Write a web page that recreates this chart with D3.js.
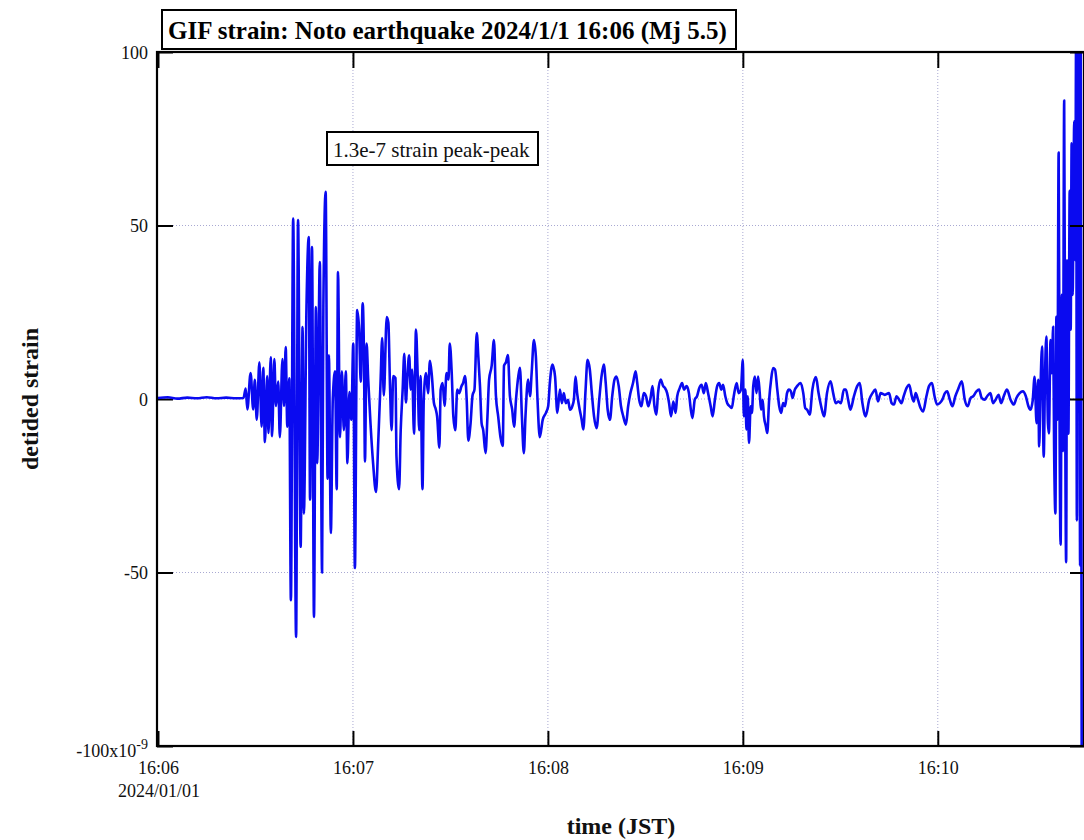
<!DOCTYPE html>
<html><head><meta charset="utf-8">
<script src="https://cdn.jsdelivr.net/npm/d3@7"></script>
<style>
body{margin:0;background:#fff}
svg{display:block}
text{font-family:"Liberation Serif","Times New Roman",serif}
</style>
</head><body>
<svg id="c" width="1084" height="840"></svg>
<script>
// ---- data: seconds after 16:06:00 JST, detided strain in units of 1e-9 ----
const timeSec = [
0,3,6,9,12,15,18,21,24,26.3,
27,27.5,28.5,29.3,29.8,30.4,31.2,31.9,32.4,32.9,
33.6,34,34.7,35.1,35.8,36.3,37,37.5,38.3,38.8,
39.3,39.8,40.4,40.9,41.6,42.5,43.1,43.9,44.5,44.9,
45.7,46.4,46.8,47.4,48,48.6,49,49.8,50.5,50.9,
51.6,52.2,52.6,53.2,53.8,54.5,55,55.4,56,56.6,
57.2,57.8,58.3,58.9,59.5,60.1,60.6,
61.3,61.9,62.4,63,63.4,63.7,64.2,64.7,65.4,66.2,
67.1,67.8,68.5,69,69.5,70.4,70.9,71.4,71.9,72.4,
73.1,73.4,74.2,74.7,75.3,75.8,76.3,76.7,77.3,77.8,
78.2,78.8,79.4,79.9,80.4,80.8,81.4,81.8,82.5,83.1,
83.7,84.3,84.9,85.5,85.9,86.6,87,87.6,88.2,88.8,
89.4,89.8,90.4,90.9,91.5,92.1,92.7,93.4,93.9,94.5,
95,95.5,96.2,96.8,97.4,98.1,98.6,99.1,99.6,100.1,
100.8,101.4,101.9,102.7,103.4,104,104.7,105.4,106.1,106.5,
107.1,107.7,108.3,109,109.6,110.2,110.9,111.4,112,112.6,
113.1,113.9,114.5,115,115.7,116.3,116.8,117.5,118.4,119.4,
120.1,
120.6,121.4,122.2,122.9,123.7,124.3,124.9,125.5,126.2,126.8,
127.5,128,128.5,129,129.6,130.4,130.9,131.6,132.2,132.9,
133.6,134.2,135,135.8,136.5,137.2,137.8,138.4,139.1,139.8,
140.5,141.1,141.8,142.5,143.2,144,144.7,145.4,146.2,147,
147.5,148.1,148.8,149.5,150.2,150.9,151.6,152.2,152.8,153.4,
153.9,154.7,155.5,156,156.7,157.3,157.9,158.6,159.3,159.8,
160.6,161.3,161.9,162.7,163.4,164,164.5,165.2,165.9,166.6,
167.3,168,168.6,169.3,170.1,170.7,171.4,172.1,172.7,173.4,
173.9,174.6,175.2,176,176.6,177.2,178.1,178.7,179.4,180,
180.3,180.8,181.1,181.5,181.9,182.4,182.8,183.2,183.7,184.2,
184.7,185.2,185.6,186.1,186.5,187.1,187.5,188.1,188.7,189.3,
189.9,190.6,191.2,191.8,192.4,193,193.6,194.2,
194.8,195.3,196,196.7,197.8,198.6,199.2,199.8,200.6,201.4,
202.5,203.3,204.1,205,205.9,207,207.8,208.6,209.4,210.2,
211.1,211.7,212.4,213.1,214.2,215.2,216,216.8,217.8,218.9,
219.9,220.8,221.6,222.4,223.7,225,225.8,226.5,227.3,228.1,
228.8,229.5,230.4,231.2,232,232.6,233.2,233.9,234.7,235.5,
236.5,237.3,238.2,239,239.8,240.6,241.4,242.2,242.9,243.7,
244.5,245.4,246.2,247.4,248.3,249.2,250.1,250.9,251.9,252.7,
253.5,254.4,255.2,256.2,257,257.8,258.7,259.5,260.3,261.3,
262.4,263.4,264.2,265.2,266.2,267.1,267.9,268.5,
269.2,269.8,270.4,270.9,271.2,271.6,272.1,272.6,273,273.4,
273.9,274.2,274.7,275.1,275.5,275.8,276.2,276.5,276.8,277.2,
277.5,277.8,278.2,278.5,278.9,279.2,279.5,279.8,280.2,280.6,
280.9,281.2,281.5,282,282.3,282.6,282.8,283.1,283.3,283.5,
283.8,284,284.3
];
const strain = [
0.3,0.5,0.1,0.4,0.2,0.5,0.2,0.4,0.2,0.3,
3,-3,7.5,-3,5.5,-6,10.6,-8,9,-12.4,
6.6,-9.8,12,-10.7,11.5,-2,5,-11,11.5,-2,
15,-8,6,-58,52,-68.6,51.6,-42.6,20.7,-33,
26.5,46.7,-29,43.8,-62.8,26.5,-18.5,39.5,-50,27,
59.7,-23,12.6,-38.6,0,8,-26,36.6,-11,8,
-9,8,-18.5,2,-6,16,-48.7,
25.6,20,5,27.6,12,-18,16,5.5,-7,-18.5,
-26.8,-12,5,17.6,1,23.6,22,4,-9,6.6,
6,-16.6,-26,-9,2.7,13,-1,5.5,12.6,2.7,
8.5,-10,20,7.5,-9,6.6,-26,0,7.5,1.7,
11,6.6,-1,-3,-5,-14,2.7,4.6,-2,7.5,
5.6,16,7.5,-5,-9,2.7,1.7,3.7,4.6,6.6,
0,-12,-7,1,2.7,19,12,3.7,-7,-9,
-15.6,-5,5.6,9.6,17,1,-5,-11,-13.5,9.6,
10.6,12.7,1,-3,-8,0,6.6,9,-5,-15.6,
-5,5.6,0.8,7.5,17,12.2,0,-11,-6,-4,
-2,
4.6,9.9,6.5,-4,2.7,-1.2,1.7,-1.2,-0.2,-3.1,
-2.1,-0.2,6.5,1.7,-2.1,-6,-8.8,2.7,11.3,8.5,
0.8,-5,-8.4,-0.2,6.5,9.9,4.6,-3.1,-6,0.8,
5.6,6.5,3.7,-2.1,-5,-7.4,-2.1,1.7,4.6,8,
4.6,-0.2,-2.1,1.7,0.8,-2.1,0.3,3.7,-2.1,-4.5,
1.7,5.6,3.7,3.2,1.7,-1.2,-5,-0.7,-4,0.8,
3.2,4.6,2.7,3.7,1.7,-3.1,-5.5,-0.2,0.8,3.2,
4.1,1.7,4.6,1.7,-2.1,-5,-0.2,3.7,4.6,2.7,
4.1,0.8,-1.2,-2.1,-2.6,0.8,4.6,1.7,2.7,11.3,
-5,2.7,-8.8,0.8,-12.7,-2.1,-4,3.7,6.5,1.7,
6.5,1.7,-3.1,-0.2,-5,-7.9,-9.8,-0.2,5.6,8.9,
8.5,2.7,-2.1,-4,-1.2,-2.1,1.7,2.7,
2.2,0.3,2.7,3.7,4.6,1.7,-2.6,-3.1,-4.5,2.7,
6.3,1.7,-2.1,-5,1.7,5.1,1.7,-1.2,-0.7,-1.2,
2.7,2.7,-0.2,-3.1,0.8,3.7,4.6,-1.2,-5,-0.2,
1.7,2.7,-0.7,1.7,1.2,1.7,-1.2,-1.6,0.8,-0.2,
-1.2,0.8,3.2,4.1,0.8,-0.7,1.7,-0.2,-2.6,-3.6,
0.8,3.7,4.6,0.8,-1.6,-1.2,-0.2,1.7,2.2,-0.2,
-2.1,0.8,2.7,5.1,-0.2,-2.1,0.3,0.8,2.2,2.7,
0.3,-0.2,0.8,1.7,-1.2,-0.2,1.2,-1.2,0.8,2.7,
-0.2,-1.6,0.3,1.7,2.2,0.8,-2.1,-3.1,
-0.5,6.4,-7,5.5,-13.7,2.6,15.1,-16.6,6.4,18,
-7,-9.9,17,7.4,20.8,-14,-33,23.7,-6,71,
-10,-42,30,-15,86,0,-47,40,-10,60,
20,73.7,30,80,40,110,-35,105,40,110,
-48,110,-110
];
const xTickSec = [0, 60, 120, 180, 240];
const xTickLabels = ["16:06", "16:07", "16:08", "16:09", "16:10"];
const yTicks = [100, 50, 0, -50, -100];
const yTickLabels = ["100", "50", "0", "-50", "-100x10"];
const yExponent = "-9";
const xDomain = [0, 285];
const yDomain = [-100, 100];
const titleText = "GIF strain: Noto earthquake 2024/1/1 16:06 (Mj 5.5)";
const noteText = "1.3e-7 strain peak-peak";
const dateLabel = "2024/01/01";
const xLabel = "time (JST)";
const yLabel = "detided strain";

// ---- layout ----
const L = 158, R = 1084, T = 52, B = 746;
const x = d3.scaleLinear().domain(xDomain).range([L, R]);
const y = d3.scaleLinear().domain(yDomain).range([B, T]);
const svg = d3.select("#c");
const FONT = '"Liberation Serif","Times New Roman",serif';

svg.append("defs").append("clipPath").attr("id", "clip")
  .append("rect").attr("x", L - 1).attr("y", T).attr("width", R - L + 1).attr("height", B - T);

// grid
const gridColor = "#a9a9d2";
svg.append("g").selectAll("line").data(xTickSec.slice(1)).join("line")
  .attr("x1", d => x(d)).attr("x2", d => x(d)).attr("y1", T).attr("y2", B)
  .attr("stroke", gridColor).attr("stroke-width", 1).attr("stroke-dasharray", "1,2");
svg.append("g").selectAll("line").data(yTicks.filter(d => d > yDomain[0] && d < yDomain[1])).join("line")
  .attr("x1", L).attr("x2", R).attr("y1", d => y(d)).attr("y2", d => y(d))
  .attr("stroke", gridColor).attr("stroke-width", 1).attr("stroke-dasharray", "1,2");

// left axis (ticks inside, labels outside)
const yl = svg.append("g").attr("transform", `translate(${L - 1},0)`)
  .call(d3.axisLeft(y).tickValues(yTicks).tickSize(-16).tickPadding(9)
    .tickFormat((d, i) => yTickLabels[i]));
yl.attr("font-family", FONT).attr("font-size", 18);
yl.select(".domain").remove();
yl.selectAll(".tick line").attr("stroke", "#000").attr("stroke-width", 2);
yl.selectAll(".tick text").attr("fill", "#111").attr("dy", "0.34em");
yl.selectAll(".tick text").filter(d => d === -100)
  .attr("y", 4)
  .append("tspan").attr("dy", "-0.55em").attr("font-size", 14).text(yExponent);

// trace
svg.append("path")
  .datum(d3.range(timeSec.length))
  .attr("clip-path", "url(#clip)")
  .attr("fill", "none").attr("stroke", "#0a0af0").attr("stroke-width", 2.6)
  .attr("stroke-linejoin", "round")
  .attr("d", d3.line().curve(d3.curveMonotoneX)
    .x(i => x(timeSec[i])).y(i => y(strain[i])));

// bottom axis
const xb = svg.append("g").attr("transform", `translate(0,${B})`)
  .call(d3.axisBottom(x).tickValues(xTickSec).tickSize(-15)
    .tickFormat((d, i) => xTickLabels[i]));
xb.attr("font-family", FONT).attr("font-size", 18);
xb.select(".domain").remove();
xb.selectAll(".tick line").attr("stroke", "#000").attr("stroke-width", 2);
xb.selectAll(".tick text").attr("fill", "#111").attr("y", 28).attr("dy", null);

// top axis
const xt = svg.append("g").attr("transform", `translate(0,${T})`)
  .call(d3.axisTop(x).tickValues(xTickSec).tickSize(-16).tickFormat(""));
xt.select(".domain").remove();
xt.selectAll(".tick line").attr("stroke", "#000").attr("stroke-width", 2);

// right axis
const yr = svg.append("g").attr("transform", `translate(${R},0)`)
  .call(d3.axisRight(y).tickValues(yTicks).tickSize(-14).tickFormat(""));
yr.select(".domain").remove();
yr.selectAll(".tick line").attr("stroke", "#000").attr("stroke-width", 2);

// frame
svg.append("rect").attr("x", L - 1).attr("y", T).attr("width", R - L + 1).attr("height", B - T)
  .attr("fill", "none").attr("stroke", "#000").attr("stroke-width", 2.2);

// date under first tick
svg.append("text").attr("x", x(0) + 1).attr("y", 797).attr("text-anchor", "middle")
  .attr("font-size", 18).attr("fill", "#111").text(dateLabel);

// axis titles
svg.append("text").attr("x", (L + R) / 2).attr("y", 834).attr("text-anchor", "middle")
  .attr("font-size", 24).attr("font-weight", "bold").attr("fill", "#111").text(xLabel);
svg.append("text").attr("transform", `translate(38,${(T + B) / 2}) rotate(-90)`)
  .attr("text-anchor", "middle").attr("font-size", 24).attr("font-weight", "bold")
  .attr("fill", "#111").text(yLabel);

// title box
svg.append("rect").attr("x", 162).attr("y", 10).attr("width", 574).attr("height", 39)
  .attr("fill", "#fff").attr("stroke", "#000").attr("stroke-width", 2);
svg.append("text").attr("x", 168).attr("y", 39).attr("font-size", 25).attr("font-weight", "bold")
  .attr("fill", "#000").text(titleText);

// annotation box
svg.append("rect").attr("x", 327).attr("y", 132).attr("width", 211).attr("height", 33)
  .attr("fill", "#fff").attr("stroke", "#000").attr("stroke-width", 2);
svg.append("text").attr("x", 333).attr("y", 157).attr("font-size", 21)
  .attr("fill", "#111").text(noteText);
</script>
</body></html>
